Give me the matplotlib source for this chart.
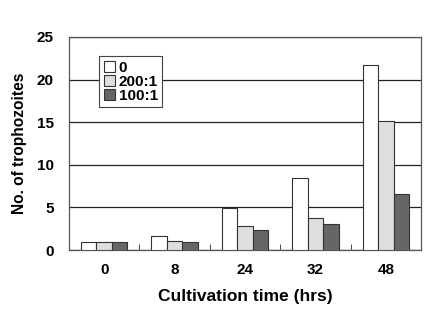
import matplotlib.pyplot as plt
import numpy as np

plt.rcParams['font.family'] = ['Liberation Sans', 'DejaVu Sans']
plt.rcParams['font.weight'] = 'bold'

hours = ['0', '8', '24', '32', '48']
series_names = ['0', '200:1', '100:1']
control = [0.9, 1.6, 4.9, 8.5, 21.7]
ratio_200 = [0.9, 1.0, 2.8, 3.8, 15.1]
ratio_100 = [0.9, 0.9, 2.4, 3.1, 6.6]
colors = ['white', '#dedede', '#666666']

fig = plt.figure(figsize=(4.48, 3.27), dpi=100)
ax = fig.add_axes([69 / 448, 1 - 250 / 327, 352 / 448, 213 / 327])

x = np.arange(len(hours))
w = 0.22
for i, (vals, name, c) in enumerate(zip([control, ratio_200, ratio_100], series_names, colors)):
    ax.bar(x + (i - 1) * w, vals, width=w, color=c, edgecolor='#333333',
           linewidth=0.8, label=name, zorder=3)

ax.set_xlim(-0.5, len(hours) - 0.5)
ax.set_ylim(0, 25)
ax.set_yticks([0, 5, 10, 15, 20, 25])
ax.set_xticks(x)
ax.set_xticklabels(hours)
ax.set_xticks(x[:-1] + 0.5, minor=True)
ax.tick_params(axis='x', which='major', length=0, pad=9, labelsize=11)
ax.tick_params(axis='x', which='minor', length=4, direction='in', color='#333333')
ax.tick_params(axis='y', length=0, pad=11, labelsize=11)
ax.yaxis.grid(True, color='#222222', linewidth=0.9, zorder=0)

for s in ax.spines.values():
    s.set_color('#555555')
    s.set_linewidth(0.9)

ax.set_xlabel('Cultivation time (hrs)', fontsize=12.5, fontweight='bold', labelpad=9)
ax.set_ylabel('No. of trophozoites', fontsize=11.2, fontweight='bold', labelpad=7)

leg = ax.legend(loc='upper left', bbox_to_anchor=(0.085, 0.91), fontsize=11,
                frameon=True, fancybox=False, handlelength=0.75, handleheight=0.75,
                handletextpad=0.25, labelspacing=0.0, borderpad=0.3,
                borderaxespad=0)
leg.get_frame().set_edgecolor('#444444')
leg.get_frame().set_linewidth(0.8)
leg.get_frame().set_alpha(1)

fig.savefig('out.png', dpi=100)
